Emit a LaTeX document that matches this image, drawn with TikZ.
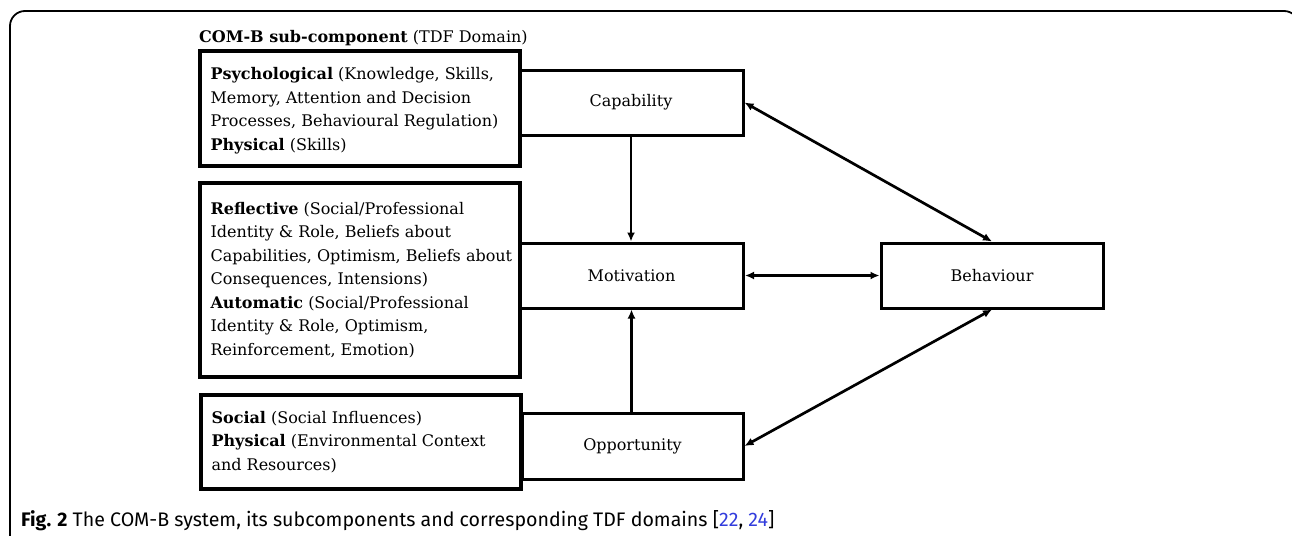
\documentclass[tikz,border=0pt]{standalone}
\usepackage{fontspec}
\setmainfont{DejaVu Serif}
\newfontfamily\capfont{Fira Sans}
\usetikzlibrary{arrows.meta}
\definecolor{refblue}{RGB}{50,60,220}
\begin{document}
\begin{tikzpicture}[x=1pt,y=-1pt,
  lbox/.style={draw, line width=3.3pt, minimum width=320pt, inner sep=0pt},
  cbox/.style={draw, line width=3pt, minimum width=224pt, minimum height=65pt, inner sep=0pt, font=\fontsize{16}{20}\selectfont},
  ltext/.style={anchor=west, align=left, inner sep=0pt, font=\fontsize{16}{23.5}\selectfont},
  arrone/.style={line width=2.7pt, -{Latex[length=9pt,width=8pt]}},
  arrtwo/.style={line width=2.7pt, {Latex[length=9pt,width=8pt]}-{Latex[length=9pt,width=8pt]}},
  frame/.style={line width=1.8pt, rounded corners=15pt}]
\useasboundingbox (0,0) rectangle (1292,535);
\begin{scope}
\clip (0,0) rectangle (1292,535);
\draw[frame] (10,11) rectangle (1299,580);
\end{scope}
% header
\node[anchor=base west, inner sep=0pt, font=\fontsize{16}{20}\selectfont] (hdr) at (199,42) {\textbf{COM-B sub-component} (TDF Domain)};
% left boxes
\node[lbox, minimum height=115pt] (lb1) at (360,108.5) {};
\node[lbox, minimum height=194pt] (lb2) at (360,280) {};
\node[lbox, minimum height=94pt] (lb3) at (361,442) {};
\node[ltext] (t1) at ([xshift=12pt,yshift=-2pt]lb1.west) {\textbf{Psychological} (Knowledge, Skills,\\Memory, Attention and Decision\\Processes, Behavioural Regulation)\\\textbf{Physical} (Skills)};
\node[ltext] (t2) at ([xshift=12pt]lb2.west) {\textbf{Reflective} (Social/Professional\\Identity \& Role, Beliefs about\\Capabilities, Optimism, Beliefs about\\Consequences, Intensions)\\\textbf{Automatic} (Social/Professional\\Identity \& Role, Optimism,\\Reinforcement, Emotion)};
\node[ltext] (t3) at ([xshift=12pt]lb3.west) {\textbf{Social} (Social Influences)\\\textbf{Physical} (Environmental Context\\and Resources)};
% COM-B boxes
\node[cbox] (cap) at (631,102.5) {Capability};
\node[cbox] (mot) at (631.5,275.5) {Motivation};
\node[cbox, minimum width=221pt, minimum height=66pt] (opp) at (632.5,446) {Opportunity};
\node[cbox, minimum width=222pt] (beh) at (992,275.5) {Behaviour};
% arrows
\draw[arrone] (cap.south) -- (cap.south |- mot.north);
\draw[arrone] (mot.south |- opp.north) -- (mot.south);
\draw[arrtwo] (mot.east) -- (beh.west);
\draw[arrtwo] (cap.east) -- (beh.north);
\draw[arrtwo] (beh.south) -- (opp.east);
% caption
\node[anchor=base west, inner sep=0pt, font=\capfont\fontsize{19.6}{22}\selectfont] (capt) at (21,526) {\textbf{Fig. 2} The COM-B system, its subcomponents and corresponding TDF domains [\textcolor{refblue}{22}, \textcolor{refblue}{24}]};
\end{tikzpicture}
\end{document}
